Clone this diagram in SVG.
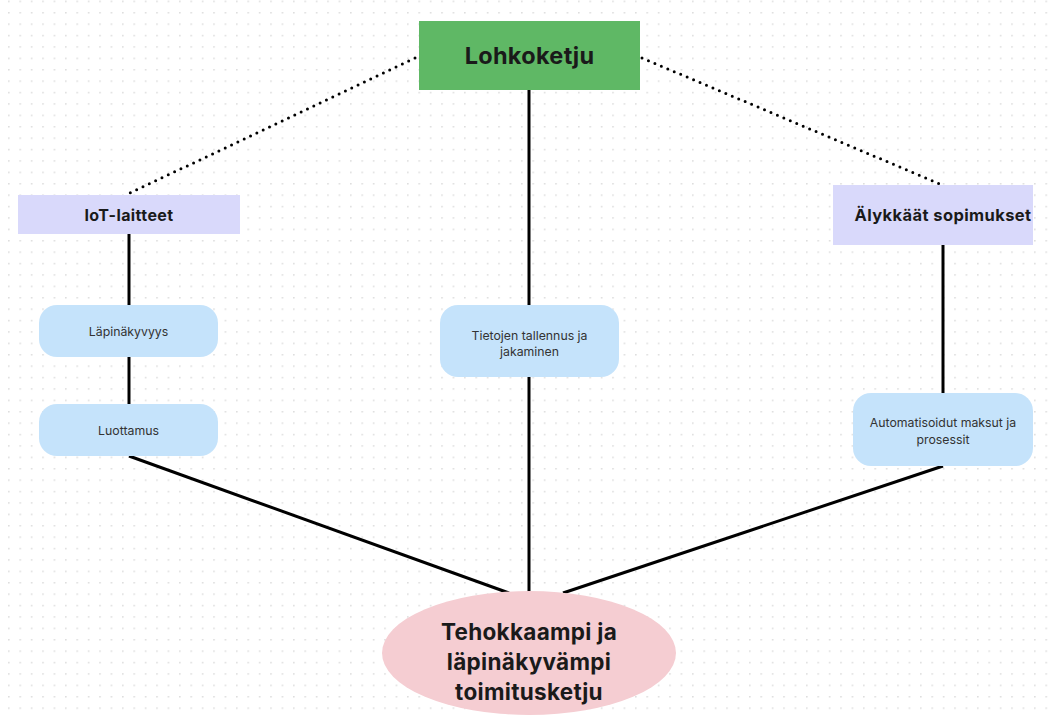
<svg xmlns="http://www.w3.org/2000/svg" width="1048" height="715" viewBox="0 0 1048 715">
  <defs>
    <pattern id="dots" x="8" y="12" width="11.4" height="11.4" patternUnits="userSpaceOnUse">
      <circle cx="0.8" cy="0.8" r="0.9" fill="#dcdcdc"/>
    </pattern>
    <style>
      .lbl { font-family: Inter, "Noto Sans", "DejaVu Sans", sans-serif; fill: #1a1a1a; text-anchor: middle; }
      .big { font-size: 23.5px; font-weight: 700; letter-spacing: 0.3px; }
      .mid { font-size: 16px; font-weight: 700; letter-spacing: 0.4px; }
      .small { font-size: 12.3px; font-weight: 400; fill: #333333; }
      .solid { stroke: #000000; stroke-width: 3; fill: none; }
      .dotted { stroke: #000000; stroke-width: 3; fill: none; stroke-dasharray: 0 7; stroke-linecap: round; }
      .cat { fill: #d9d9fb; }
      .sub { fill: #c5e3fb; }
    </style>
  </defs>

  <rect width="1048" height="715" fill="#ffffff"/>
  <rect width="1048" height="715" fill="url(#dots)"/>

  <g id="connectors">
    <line class="dotted" x1="415" y1="58" x2="130" y2="193"/>
    <line class="dotted" x1="642" y1="58" x2="940" y2="184"/>
    <line class="solid" x1="529" y1="90" x2="529" y2="593"/>
    <line class="solid" x1="129" y1="234" x2="129" y2="305"/>
    <line class="solid" x1="129" y1="357" x2="129" y2="404"/>
    <line class="solid" x1="943" y1="245" x2="943" y2="393"/>
    <line class="solid" x1="129" y1="456" x2="509" y2="593"/>
    <line class="solid" x1="943" y1="466" x2="563" y2="593"/>
  </g>

  <g id="lohkoketju">
    <rect x="419" y="21" width="221" height="69" fill="#5fb865"/>
    <text class="lbl big" x="529.5" y="64">Lohkoketju</text>
  </g>

  <g id="iot-laitteet">
    <rect class="cat" x="18" y="195" width="222" height="39"/>
    <text class="lbl mid" x="129" y="221">IoT-laitteet</text>
  </g>

  <g id="alykkaat-sopimukset">
    <rect class="cat" x="833" y="185" width="200" height="60"/>
    <text class="lbl mid" x="943" y="221" style="font-size:16.5px">Älykkäät sopimukset</text>
  </g>

  <g id="lapinakyvyys">
    <rect class="sub" x="39" y="305" width="179" height="52" rx="18"/>
    <text class="lbl small" x="128.5" y="336">Läpinäkyvyys</text>
  </g>

  <g id="luottamus">
    <rect class="sub" x="39" y="404" width="179" height="52" rx="18"/>
    <text class="lbl small" x="128.5" y="435">Luottamus</text>
  </g>

  <g id="tietojen-tallennus">
    <rect class="sub" x="440" y="305" width="179" height="72" rx="18"/>
    <text class="lbl small" x="529.5" y="340">Tietojen tallennus ja</text>
    <text class="lbl small" x="529.5" y="356">jakaminen</text>
  </g>

  <g id="automatisoidut-maksut">
    <rect class="sub" x="853" y="393" width="180" height="73" rx="18"/>
    <text class="lbl small" x="943" y="427">Automatisoidut maksut ja</text>
    <text class="lbl small" x="943" y="444">prosessit</text>
  </g>

  <g id="toimitusketju">
    <ellipse cx="529" cy="653" rx="147" ry="62" fill="#f5cdd2"/>
    <text class="lbl big" x="529" y="640" style="font-size:22.5px">Tehokkaampi ja</text>
    <text class="lbl big" x="529" y="670" style="font-size:22.5px">läpinäkyvämpi</text>
    <text class="lbl big" x="529" y="700" style="font-size:22.5px">toimitusketju</text>
  </g>
</svg>
